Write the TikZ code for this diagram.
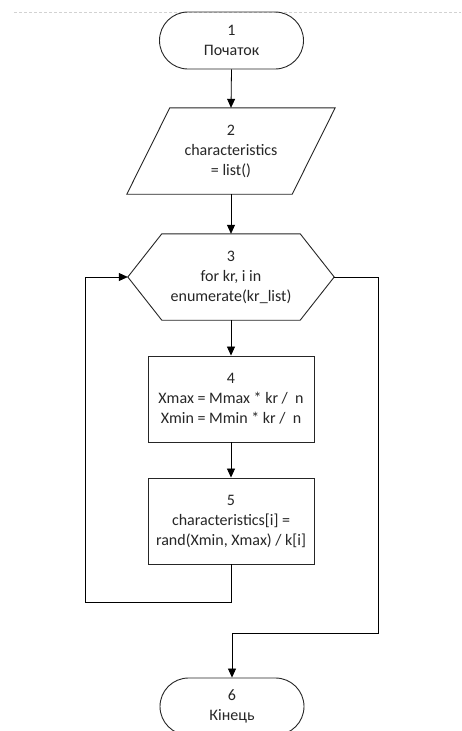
\documentclass[tikz,border=0pt]{standalone}
\usepackage{fontspec}
\setmainfont{Carlito}
\usetikzlibrary{arrows.meta,shapes.misc}
\definecolor{txt}{HTML}{262626}
\definecolor{edge}{HTML}{262626}
\tikzset{
  base/.style={inner sep=0pt, align=center, text=txt, font=\fontsize{16pt}{20pt}\selectfont},
  term/.style={base, draw=edge, line width=0.9pt, rounded rectangle, minimum width=144pt, minimum height=57pt},
  procbox/.style={base, draw=edge, line width=0.9pt, rectangle, minimum width=166pt, minimum height=86pt},
  frame/.style={base, rectangle, minimum height=86pt},
  outline/.style={draw=edge, line width=0.9pt, line join=miter},
  arrow/.style={draw=black, line width=0.8pt, -{Triangle[length=9pt,width=8pt]}},
  link/.style={draw=black, line width=0.8pt}
}
\begin{document}
\begin{tikzpicture}[x=1pt,y=-1pt]
\useasboundingbox (0,0) rectangle (461,731);
\clip (0,0) rectangle (461,731);
\fill[white] (0,0) rectangle (461,731);
\draw[gray!35, line width=0.6pt, dash pattern=on 3pt off 2pt] (14,12) -- (461,12);

\node[term] (t1) at (231.5,40.5) {1\\Початок};

\node[frame, minimum width=208pt] (p2) at (231,151) {2\\characteristics\\= list()};
\draw[outline] ([xshift=43pt]p2.north west) -- (p2.north east) -- ([xshift=-43pt]p2.south east) -- (p2.south west) -- cycle;

\node[frame, minimum width=206pt] (h3) at (231,277) {3\\for kr, i in\\enumerate(kr\_list)};
\draw[outline] ([xshift=34pt]h3.north west) -- ([xshift=-34pt]h3.north east) -- (h3.east) -- ([xshift=-34pt]h3.south east) -- ([xshift=34pt]h3.south west) -- (h3.west) -- cycle;

\node[procbox] (b4) at (231,399) {4\\Xmax = Mmax * kr /\ \ n\\Xmin = Mmin * kr /\ \ n};
\node[procbox] (b5) at (231,521) {5\\characteristics[i] =\\rand(Xmin, Xmax) / k[i]};

\node[term] (t6) at (232,706.5) {6\\Кінець};

\coordinate (loopL) at (85,602);
\coordinate (exitR) at (378,633);

\draw[arrow] (t1.south) -- (p2.north);
\draw[arrow] (p2.south) -- (h3.north);
\draw[arrow] (h3.south) -- (b4.north);
\draw[arrow] (b4.south) -- (b5.north);
\draw[arrow] (b5.south) |- (loopL) |- (h3.west);
\draw[arrow] (h3.east) -| (exitR) -| (t6.north);
\end{tikzpicture}
\end{document}
